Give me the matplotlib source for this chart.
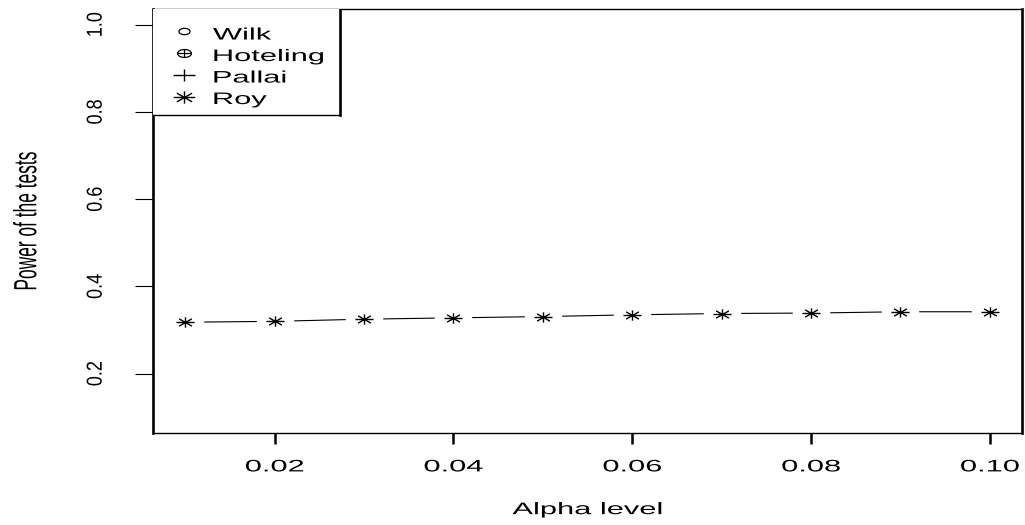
import matplotlib
matplotlib.use("Agg")
import matplotlib.pyplot as plt
from matplotlib.lines import Line2D
from matplotlib.path import Path
from matplotlib.patheffects import AbstractPathEffect
from matplotlib.transforms import Affine2D

alpha_levels = [0.01, 0.02, 0.03, 0.04, 0.05, 0.06, 0.07, 0.08, 0.09, 0.10]
roy_power = [0.318, 0.320, 0.325, 0.328, 0.331, 0.335, 0.338, 0.339, 0.342, 0.342]
test_names = ["Wilk", "Hoteling", "Pallai", "Roy"]
x_ticks = [0.02, 0.04, 0.06, 0.08, 0.10]
y_ticks = [0.2, 0.4, 0.6, 0.8, 1.0]

TEXT_SX = 1.85   # device is wider than tall, so glyphs come out stretched
YTICK_SX = 1.2
MARK_SX = 1.75


class HStretch(AbstractPathEffect):
    """Stretch drawn glyphs horizontally about their centre (or left edge)."""

    def __init__(self, sx, anchor="center"):
        super().__init__()
        self.sx = sx
        self.anchor = anchor

    def draw_path(self, renderer, gc, tpath, affine, rgbFace=None):
        ext = tpath.get_extents(affine)
        x0 = ext.x0 if self.anchor == "left" else 0.5 * (ext.x0 + ext.x1)
        wide = Affine2D().translate(-x0, 0).scale(self.sx, 1).translate(x0, 0)
        renderer.draw_path(gc, tpath, affine + wide, rgbFace)


def stretched(path):
    return Affine2D().scale(MARK_SX, 1).transform_path(path)


MOVE, LINE = Path.MOVETO, Path.LINETO
r = 0.7071
plus_path = Path([(-1, 0), (1, 0), (0, -1), (0, 1)], [MOVE, LINE, MOVE, LINE])
star_path = Path([(-1, 0), (1, 0), (0, -1), (0, 1),
                  (-r, -r), (r, r), (-r, r), (r, -r)],
                 [MOVE, LINE] * 4)
circle_path = Path.unit_circle()
pch1 = stretched(circle_path)
pch10 = stretched(Path.make_compound_path(circle_path, plus_path))
pch3 = stretched(plus_path)
pch8 = stretched(star_path)

plt.rcParams["font.family"] = "Liberation Sans"
FS = 12

fig = plt.figure(figsize=(10.25, 5.25), dpi=100)
ax = fig.add_axes([0.1493, 0.1752, 0.8478, 0.8076])

# points joined by a line that stops short of each symbol
ax.plot(alpha_levels, roy_power, color="black", lw=0.8, zorder=2)
ax.plot(alpha_levels, roy_power, ls="none", marker="o", ms=27,
        mfc="white", mec="none", zorder=3)
ax.plot(alpha_levels, roy_power, ls="none", marker=pch8, ms=13,
        mfc="none", mec="black", mew=1.0, zorder=4)

ax.set_xlim(0.0064, 0.1036)
ax.set_ylim(0.064, 1.036)
ax.set_xticks(x_ticks)
ax.set_xticklabels(["%.2f" % v for v in x_ticks], fontsize=FS,
                   path_effects=[HStretch(TEXT_SX)])
ax.set_yticks(y_ticks)
ax.set_yticklabels(["%.1f" % v for v in y_ticks], rotation=90, va="center",
                   fontsize=13, path_effects=[HStretch(YTICK_SX)])
ax.tick_params(axis="x", direction="out", length=8, width=1.8, pad=11)
ax.tick_params(axis="y", direction="out", length=13, width=0.8, pad=22)

for side in ("left", "right"):
    ax.spines[side].set_linewidth(1.9)
for side in ("top", "bottom"):
    ax.spines[side].set_linewidth(1.0)

ax.set_xlabel("Alpha level", fontsize=FS, path_effects=[HStretch(TEXT_SX)])
ax.xaxis.set_label_coords(0.5, -0.163)
ax.set_ylabel("Power of the tests", fontsize=12.5, path_effects=[HStretch(TEXT_SX)])
ax.yaxis.set_label_coords(-0.137, 0.5)

# legend box in the top-left corner
leg_right, leg_bottom = 0.215, 0.75
ax.fill_between([0, leg_right], leg_bottom, 1, color="white",
                transform=ax.transAxes, zorder=5)
ax.add_line(Line2D([leg_right, leg_right], [leg_bottom, 1], color="black",
                   lw=1.9, transform=ax.transAxes, zorder=6))
ax.add_line(Line2D([0, leg_right], [leg_bottom, leg_bottom], color="black",
                   lw=1.0, transform=ax.transAxes, zorder=6))

leg_marks = [(pch1, 8, 0.9), (pch10, 10, 0.9), (pch3, 15.5, 1.0), (pch8, 15.5, 1.0)]
mark_x = (184 - 153) / 869
text_x = (213 - 153) / 869
for i, (name, (mk, size, mew)) in enumerate(zip(test_names, leg_marks)):
    mark_y = 1 - (31 + 22 * i - 9) / 424
    ax.plot([mark_x], [mark_y], ls="none", marker=mk, ms=size, mfc="none",
            mec="black", mew=mew, transform=ax.transAxes, zorder=7, clip_on=False)
    text_y = 1 - (33.5 + 21.5 * i + 6 - 9) / 424
    ax.text(text_x, text_y, name, fontsize=FS, va="baseline", ha="left",
            transform=ax.transAxes, zorder=7,
            path_effects=[HStretch(TEXT_SX, anchor="left")])

fig.savefig("out.png", dpi=100, facecolor="white")
